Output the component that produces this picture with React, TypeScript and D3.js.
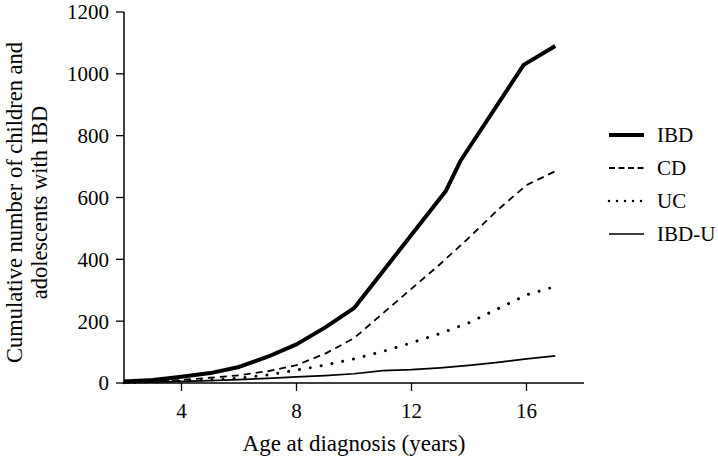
import React from "react";
import * as d3 from "d3";

const ages = [2, 3, 4, 5, 6, 7, 8, 9, 10, 11, 12, 13, 14, 15, 16, 17];
const ibdAges = [2, 3, 4, 5, 6, 7, 8, 9, 10, 13.2, 13.7, 15.9, 17];
const ibdValues = [5, 10, 20, 32, 52, 85, 125, 180, 242, 622, 718, 1029, 1090];
const cdValues = [2, 5, 10, 17, 25, 38, 58, 95, 145, 225, 305, 385, 470, 560, 640, 685];
const ucValues = [1, 3, 6, 10, 16, 26, 42, 58, 78, 102, 130, 160, 195, 240, 285, 312];
const ibduValues = [1, 3, 5, 8, 11, 15, 20, 24, 30, 40, 43, 49, 57, 67, 78, 88];
const xTicks = [4, 8, 12, 16];
const yTicks = [0, 200, 400, 600, 800, 1000, 1200];
const legendLabels = ["IBD", "CD", "UC", "IBD-U"];

const W = 718;
const H = 457;
const m = { left: 124, right: 134, top: 12, bottom: 74 };
const FONT = "Liberation Serif, DejaVu Serif, serif";

export default function App() {
  const x = d3.scaleLinear().domain([2, 18]).range([m.left, W - m.right]);
  const y = d3.scaleLinear().domain([0, 1200]).range([H - m.bottom, m.top]);
  const line = d3
    .line<[number, number]>()
    .x((d) => x(d[0]))
    .y((d) => y(d[1]));

  const styles = [
    { w: 4, dash: "none", cap: "butt" },
    { w: 1.8, dash: "7 5", cap: "butt" },
    { w: 3, dash: "0.01 11", cap: "round" },
    { w: 1.7, dash: "none", cap: "butt" },
  ];
  const series: [number, number][][] = [
    ibdAges.map((a, i) => [a, ibdValues[i]]),
    ages.map((a, i) => [a, cdValues[i]]),
    ages.map((a, i) => [a, ucValues[i]]),
    ages.map((a, i) => [a, ibduValues[i]]),
  ];
  const y0 = y(0);
  const xEnd = x(18);
  const ts = { fontFamily: FONT };

  return (
    <svg
      width={W}
      height={H}
      style={{ position: "absolute", left: 0, top: 0, background: "#fff", fontFamily: FONT }}
    >
      {series.map((s, i) => (
        <path
          key={i}
          d={line(s) || ""}
          fill="none"
          stroke="#000"
          strokeWidth={styles[i].w}
          strokeDasharray={styles[i].dash}
          strokeLinecap={styles[i].cap as any}
          strokeLinejoin="round"
        />
      ))}
      <line x1={m.left} x2={m.left} y1={y(1200)} y2={y0} stroke="#000" strokeWidth={1.5} />
      <line x1={m.left} x2={xEnd} y1={y0} y2={y0} stroke="#000" strokeWidth={1.5} />
      {yTicks.map((t) => (
        <g key={t}>
          <line x1={m.left - 8} x2={m.left} y1={y(t)} y2={y(t)} stroke="#000" strokeWidth={1.3} />
          <text x={m.left - 15} y={y(t)} dy="0.35em" textAnchor="end" fontSize={21} style={ts}>
            {t}
          </text>
        </g>
      ))}
      {xTicks.map((t) => (
        <g key={t}>
          <line x1={x(t)} x2={x(t)} y1={y0} y2={y0 + 8} stroke="#000" strokeWidth={1.3} />
          <text x={x(t)} y={418} textAnchor="middle" fontSize={21} style={ts}>
            {t}
          </text>
        </g>
      ))}
      <text x={(m.left + xEnd) / 2} y={451} textAnchor="middle" fontSize={23} style={ts}>
        Age at diagnosis (years)
      </text>
      <g transform={`translate(0, ${(y(1200) + y0) / 2 + 5}) rotate(-90)`}>
        <text x={0} y={22} textAnchor="middle" fontSize={22.5} style={ts}>
          Cumulative number of children and
        </text>
        <text x={0} y={47} textAnchor="middle" fontSize={22.5} style={ts}>
          adolescents with IBD
        </text>
      </g>
      {legendLabels.map((l, i) => {
        const ly = 135 + i * 33;
        return (
          <g key={l}>
            <line
              x1={609}
              x2={644}
              y1={ly}
              y2={ly}
              stroke="#000"
              strokeWidth={i === 2 ? 2.5 : styles[i].w}
              strokeDasharray={i === 1 ? "6 3.5" : i === 2 ? "0.01 8" : "none"}
              strokeLinecap={i === 2 ? "round" : "butt"}
            />
            <text x={657} y={ly} dy="0.35em" fontSize={21} style={ts}>
              {l}
            </text>
          </g>
        );
      })}
    </svg>
  );
}
